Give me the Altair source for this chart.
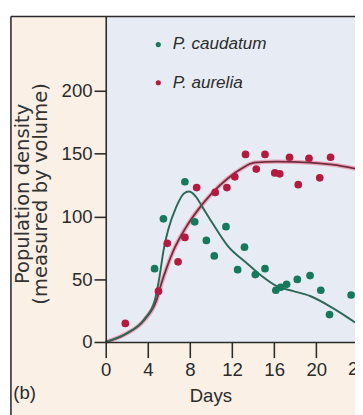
import altair as alt
import pandas as pd

# ---- data ----
species = ["P. caudatum", "P. aurelia"]
colors = ["#17795c", "#b21a40"]

caud_day = [4.64, 5.48, 7.52, 8.45, 9.56, 10.31, 11.42, 12.53, 13.18, 14.21, 15.13,
            16.16, 16.62, 17.18, 18.20, 19.41, 20.43, 21.26, 23.31]
caud_density = [58.4, 98.1, 127.6, 95.7, 80.9, 68.5, 91.8, 57.6, 75.5, 53.7, 58.4,
                41.2, 43.6, 45.9, 49.8, 52.9, 41.2, 21.8, 37.4]

aur_day = [1.86, 5.01, 5.85, 6.87, 7.52, 8.64, 10.40, 11.51, 12.26, 13.28, 14.30,
           15.13, 16.06, 16.53, 17.46, 18.29, 19.31, 20.33, 21.36]
aur_density = [14.8, 40.5, 78.6, 63.8, 83.3, 123.0, 119.1, 123.0, 131.5, 149.4, 137.7,
               149.4, 134.6, 133.9, 147.1, 125.3, 146.3, 130.7, 147.1]

caud_fit_day = [0, 1.86, 3.71, 4.64, 5.11, 5.48, 5.94, 6.69, 7.43, 7.89, 8.54, 9.19,
                10.12, 11.61, 13.46, 14.76, 16.25, 17.83, 19.41, 21.54, 23.68]
caud_fit = [0, 6.2, 18.7, 32.7, 52.1, 72.4, 89.5, 107.4, 118.3, 119.8, 116.0, 107.4,
            94.9, 76.3, 62.3, 52.9, 44.4, 40.5, 36.6, 27.2, 15.6]

aur_fit_day = [0, 1.86, 3.71, 4.83, 5.29, 5.76, 6.41, 7.61, 8.82, 10.12, 11.61, 12.91,
               14.12, 16.25, 19.41, 21.54, 23.68]
aur_fit = [0, 6.2, 17.9, 33.5, 46.7, 58.4, 72.4, 91.1, 105.8, 118.7, 130.4, 138.1,
           142.8, 143.6, 142.8, 141.2, 138.1]

x_ticks = list(range(0, 24, 2))
edge_label_day = [24]          # the "24" label that is cut by the right edge
y_ticks = [0, 50, 100, 150, 200]

# ---- tables ----
pts = pd.concat([
    pd.DataFrame({"day": caud_day, "density": caud_density, "species": species[0]}),
    pd.DataFrame({"day": aur_day, "density": aur_density, "species": species[1]}),
])
caud_line = pd.DataFrame({"day": caud_fit_day, "density": caud_fit})
aur_line = pd.DataFrame({"day": aur_fit_day, "density": aur_fit})
edge_lab = pd.DataFrame({"day": edge_label_day, "label": [str(d) for d in edge_label_day]})
one = pd.DataFrame({"k": [0]})

BEIGE = "#faf0e5"
BLUE = "#e7ecf4"
INK = "#2b2b2b"
SANS = "Liberation Sans"

W, H = 255, 333
xs = alt.Scale(domain=[0, 23.68], nice=False, zero=False)
ys = alt.Scale(domain=[0, 259.2], nice=False)

x_axis = alt.Axis(
    values=x_ticks, labelExpr="datum.value % 4 == 0 ? datum.label : ''",
    labelFlush=False, labelOverlap=False, grid=False,
    tickSize=16, tickWidth=1.6, tickColor=INK, domainColor=INK, domainWidth=1.6,
    labelFont=SANS, labelFontSize=19, labelColor=INK, labelPadding=3,
    title="Days", titleFont=SANS, titleFontSize=19, titleFontWeight="normal",
    titleColor=INK, titleX=107, titleY=61, titleBaseline="alphabetic",
    titleAlign="center", zindex=1,
)
y_axis = alt.Axis(
    values=y_ticks, grid=False,
    tickSize=12, tickWidth=1.6, tickColor=INK, domainColor=INK, domainWidth=1.6,
    labelFont=SANS, labelFontSize=19, labelColor=INK, labelPadding=2,
    title=["Population density", "(measured by volume)"], titleFont="DejaVu Sans",
    titleFontSize=20, titleFontWeight="normal", titleColor="#333333", titleLineHeight=18,
    titleAngle=270, titleX=-79, titleY=181, titleAlign="center",
    titleBaseline="alphabetic", zindex=1,
)

frame = alt.Chart(one).mark_rect(fill=BEIGE, strokeWidth=0).encode(
    x=alt.value(-97), x2=alt.value(300), y=alt.value(0), y2=alt.value(430))
plotbg = alt.Chart(one).mark_rect(fill=BLUE, strokeWidth=0).encode(
    x=alt.value(0), x2=alt.value(300), y=alt.value(0), y2=alt.value(H))
top_line = alt.Chart(one).mark_rule(color=INK, strokeWidth=1.6).encode(
    x=alt.value(-97), x2=alt.value(300), y=alt.value(0))
left_line = alt.Chart(one).mark_rule(color=INK, strokeWidth=1.6).encode(
    x=alt.value(-97), y=alt.value(0), y2=alt.value(430))
tag = alt.Chart(one).mark_text(text="(b)", font=SANS, fontSize=19, color=INK,
                               align="center", baseline="middle").encode(
    x=alt.value(-83), y=alt.value(385))
edge = alt.Chart(edge_lab).mark_text(font=SANS, fontSize=19, color=INK,
                                     align="center", baseline="top").encode(
    x=alt.X("day:Q", scale=xs), y=alt.value(H + 19), text="label:N")

aur_halo = alt.Chart(aur_line).mark_line(color="#ee8fa5", strokeWidth=4.5, opacity=0.75,
                                         interpolate="monotone").encode(
    x=alt.X("day:Q", scale=xs, axis=x_axis), y=alt.Y("density:Q", scale=ys, axis=y_axis))
aur_curve = alt.Chart(aur_line).mark_line(color="#6e3040", strokeWidth=1.8,
                                          interpolate="monotone").encode(
    x=alt.X("day:Q", scale=xs), y=alt.Y("density:Q", scale=ys))
caud_curve = alt.Chart(caud_line).mark_line(color="#2f6857", strokeWidth=2,
                                            interpolate="monotone").encode(
    x=alt.X("day:Q", scale=xs), y=alt.Y("density:Q", scale=ys))

points = alt.Chart(pts).mark_circle(size=62, opacity=1).encode(
    x=alt.X("day:Q", scale=xs),
    y=alt.Y("density:Q", scale=ys),
    color=alt.Color("species:N", scale=alt.Scale(domain=species, range=colors),
                    legend=alt.Legend(
                        title=None, orient="none", legendX=45, legendY=20,
                        symbolType="circle", symbolSize=28, symbolStrokeWidth=0,
                        labelFont=SANS, labelFontSize=17.5, labelFontStyle="italic",
                        labelColor=INK, labelOffset=6, rowPadding=20, padding=0,
                        zindex=1)),
)

chart = alt.layer(frame, plotbg, top_line, left_line, tag, edge, aur_halo, aur_curve,
                  caud_curve, points).properties(
    width=W, height=H,
    autosize=alt.AutoSizeParams(type="none"),
    padding={"left": 100, "top": 4, "right": 0, "bottom": 70},
    background="white",
).configure_view(stroke=None)

chart.save("out.html", embed_options={"renderer": "svg", "actions": False})
